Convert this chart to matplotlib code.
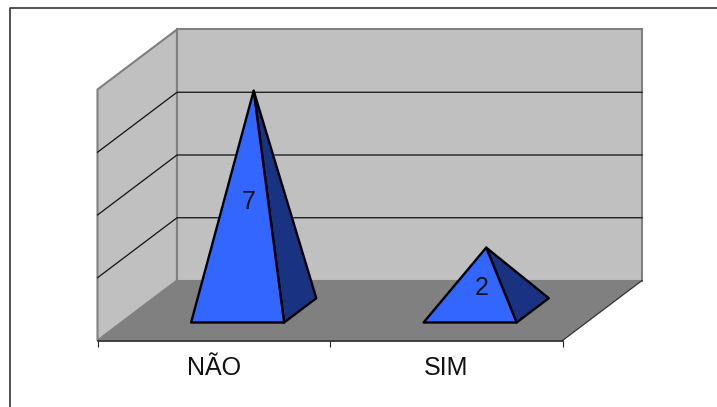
import matplotlib
matplotlib.use('Agg')
from matplotlib import pyplot as plt
from matplotlib.lines import Line2D

categories = ['NÃO', 'SIM']
values = [7, 2]
grid_values = [0, 2, 4, 6, 8]

FIG_W, FIG_H = 717, 407
# front plane of the box, in pixels
LEFT, RIGHT, BOTTOM, TOP = 97.5, 562.5, 340.5, 89.5
# shift of the back wall, in pixels
DEPTH_X, DEPTH_Y = 79.5, 60
BAR_WIDTH = 0.4
BASE_FRONT, BASE_BACK = 0.3, 0.705

WALL = '#c0c0c0'
FLOOR = '#808080'
EDGE = '#808080'
BLUE = '#3366ff'
DARK_BLUE = '#1a3282'

plt.rcParams['font.family'] = ['Liberation Sans', 'DejaVu Sans']

fig = plt.figure(figsize=(FIG_W / 100, FIG_H / 100), dpi=100)
ax = fig.add_axes([LEFT / FIG_W, 1 - BOTTOM / FIG_H, (RIGHT - LEFT) / FIG_W, (BOTTOM - TOP) / FIG_H])
ax.set_xlim(0, len(categories))
ax.set_ylim(grid_values[0], grid_values[-1])
ax.patch.set_visible(False)

x_per_px = len(categories) / (RIGHT - LEFT)
y_per_px = grid_values[-1] / (BOTTOM - TOP)
dx = DEPTH_X * x_per_px
dy = DEPTH_Y * y_per_px


def at_depth(x, y, depth):
    '''Shear a point on the front plane back into the box'''
    return x + dx * depth, y + dy * depth


def poly(points, **kwargs):
    xs, ys = zip(*points)
    ax.fill(xs, ys, clip_on=False, **kwargs)


x_end = len(categories)
y_top = grid_values[-1]

# walls and floor
poly([(0, 0), at_depth(0, 0, 1), at_depth(0, y_top, 1), (0, y_top)], fc=WALL, ec=EDGE, lw=1.5, zorder=1)
poly([at_depth(0, 0, 1), at_depth(x_end, 0, 1), at_depth(x_end, y_top, 1), at_depth(0, y_top, 1)],
     fc=WALL, ec=EDGE, lw=1.5, zorder=1)
poly([(0, 0), at_depth(0, 0, 1), at_depth(x_end, 0, 1), (x_end, 0)], fc=FLOOR, ec='none', zorder=2)
ax.plot(*zip((x_end, 0), at_depth(x_end, 0, 1)), color='#333333', lw=0.9, clip_on=False, zorder=2)

# gridlines along the side wall and the back wall
for value in grid_values[1:-1]:
    ax.plot(*zip((0, value), at_depth(0, value, 1), at_depth(x_end, value, 1)),
            color='#111111', lw=0.9, clip_on=False, zorder=2)

# pyramids
for i, value in enumerate(values):
    x0 = i + 0.5 - BAR_WIDTH / 2
    x1 = i + 0.5 + BAR_WIDTH / 2
    front_l = at_depth(x0, 0, BASE_FRONT)
    front_r = at_depth(x1, 0, BASE_FRONT)
    back_r = at_depth(x1, 0, BASE_BACK)
    apex = at_depth(i + 0.5, value, (BASE_FRONT + BASE_BACK) / 2)
    poly([front_r, back_r, apex], fc=DARK_BLUE, ec='black', lw=1.7, joinstyle='round', zorder=3)
    poly([front_l, front_r, apex], fc=BLUE, ec='black', lw=1.7, joinstyle='round', zorder=4)
    label_x = at_depth(i + 0.5, 0, 0.44)[0]
    label_y = at_depth(0, value * 0.55, BASE_FRONT)[1]
    ax.text(label_x, label_y, str(value), ha='center', va='center', fontsize=18, color='#111111', zorder=5)

# axis: ticks at the category edges, labels between them
for side in ['left', 'right', 'top']:
    ax.spines[side].set_visible(False)
ax.spines['bottom'].set_color('#222222')
ax.spines['bottom'].set_linewidth(1.2)
ax.spines['bottom'].set_zorder(6)
ax.set_yticks([])
ax.set_xticks(range(len(categories) + 1))
ax.set_xticklabels([])
ax.set_xticks([i + 0.5 for i in range(len(categories))], minor=True)
ax.set_xticklabels(categories, minor=True, fontsize=18, color='#111111')
ax.tick_params(axis='x', which='major', length=4.3, width=0.8, color='#222222')
ax.tick_params(axis='x', which='minor', length=0, pad=11)

# chart area border, top and left sides only
fig.add_artist(Line2D([10 / FIG_W, 10 / FIG_W, 1], [0, 1 - 7.5 / FIG_H, 1 - 7.5 / FIG_H],
                      transform=fig.transFigure, color='#333333', lw=1.2))

fig.savefig('out.png', dpi=100)
